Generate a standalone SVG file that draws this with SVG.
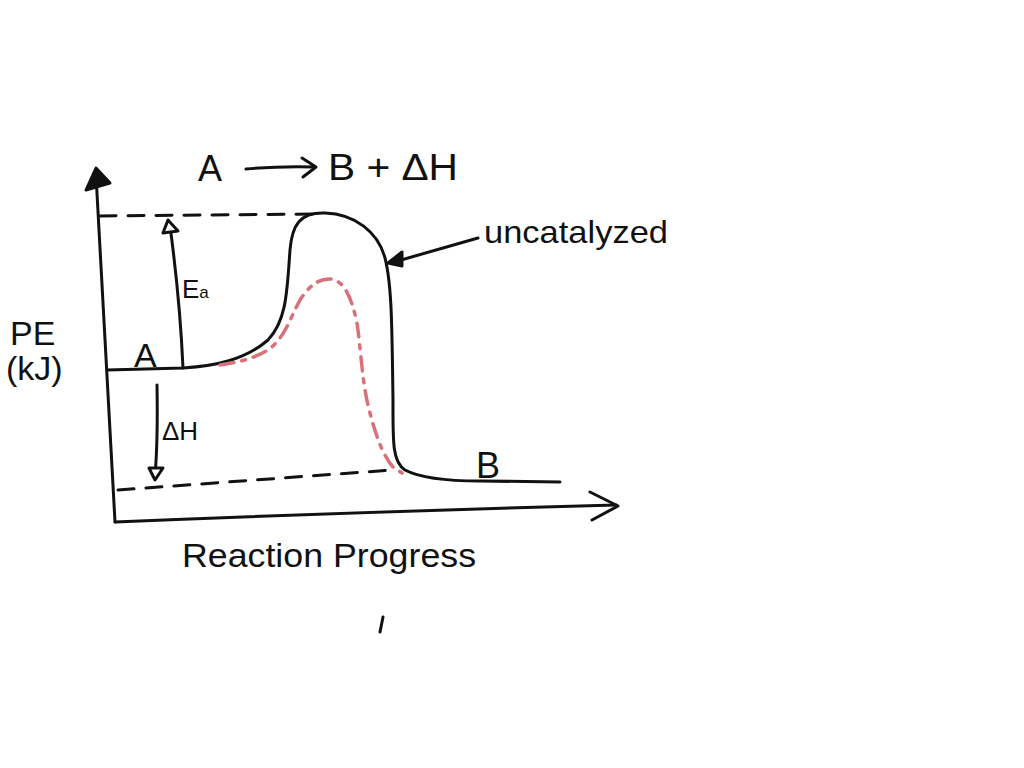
<svg xmlns="http://www.w3.org/2000/svg" width="1024" height="768" viewBox="0 0 1024 768">
<style>
.ln{fill:none;stroke:#111;stroke-width:3;stroke-linecap:round;stroke-linejoin:round}
.dash{fill:none;stroke:#111;stroke-width:3;stroke-dasharray:16 12;stroke-linecap:round}
.red{fill:none;stroke:#d9717b;stroke-width:3.5;stroke-dasharray:14 8 4 8;stroke-linecap:round}
.t{font-family:"Liberation Sans","DejaVu Sans",sans-serif;fill:#111}
</style>
<rect width="1024" height="768" fill="#fff"/>
<g id="axes">
<path class="ln" d="M96 175 L115 522"/>
<path d="M86 190 L96 168 L110 183 Z" fill="#111" stroke="#111" stroke-width="3" stroke-linejoin="round"/>
<path class="ln" d="M115 522 Q360 512 616 505"/>
<path class="ln" d="M590 492 L618 506 L592 520"/>
</g>
<g id="connectors">
<path class="dash" d="M100 216 L318 214"/>
<path class="dash" d="M118 490 L392 470"/>
<path class="ln" d="M183 368 Q180 300 170 226"/>
<path d="M163 233 L168 220 L178 231 Z" fill="#fff" stroke="#111" stroke-width="3" stroke-linejoin="round"/>
<path class="ln" d="M157 385 Q158 440 155 476"/>
<path d="M149 468 L163 468 L155 480 Z" fill="#fff" stroke="#111" stroke-width="3" stroke-linejoin="round"/>
<path class="ln" d="M478 238 L394 262"/>
<path d="M388 263 L402 252 L402 266 Z" fill="#111" stroke="#111" stroke-width="3" stroke-linejoin="round"/>
<path class="ln" d="M246 169 Q280 166 314 167"/>
<path class="ln" d="M302 158 L316 167 L303 177"/>
</g>
<g id="uncatalyzed-curve">
<path class="ln" d="M107 370 L183 368 C215 366 245 360 268 340 C287 320 287 290 290 250 C292 225 300 212 325 213 C355 214 378 232 385 258 C392 285 392 330 393 400 C393 440 392 462 405 470 C420 478 450 481 480 481 L560 482"/>
</g>
<g id="catalyzed-curve">
<path class="red" d="M220 365 C240 362 255 358 268 350 C285 338 290 318 300 300 C310 285 318 279 330 279 C345 280 352 300 357 323 C361 350 362 380 368 405 C374 430 382 455 393 467 L402 473"/>
</g>
<g id="labels">
<text class="t" x="198" y="181" font-size="36">A</text>
<text class="t" x="328" y="180" font-size="36" textLength="130" lengthAdjust="spacingAndGlyphs">B + ΔH</text>
<text class="t" x="10" y="345" font-size="34">PE</text>
<text class="t" x="6" y="380" font-size="34">(kJ)</text>
<text class="t" x="134" y="367" font-size="34">A</text>
<text class="t" x="182" y="298" font-size="26">E<tspan font-size="17">a</tspan></text>
<text class="t" x="162" y="440" font-size="26">ΔH</text>
<text class="t" x="476" y="478" font-size="36">B</text>
<text class="t" x="484" y="243" font-size="32" textLength="184" lengthAdjust="spacingAndGlyphs">uncatalyzed</text>
<text class="t" x="182" y="567" font-size="34" textLength="294" lengthAdjust="spacingAndGlyphs">Reaction Progress</text>
<path class="ln" d="M383 617 L380 632"/>
</g>
</svg>
